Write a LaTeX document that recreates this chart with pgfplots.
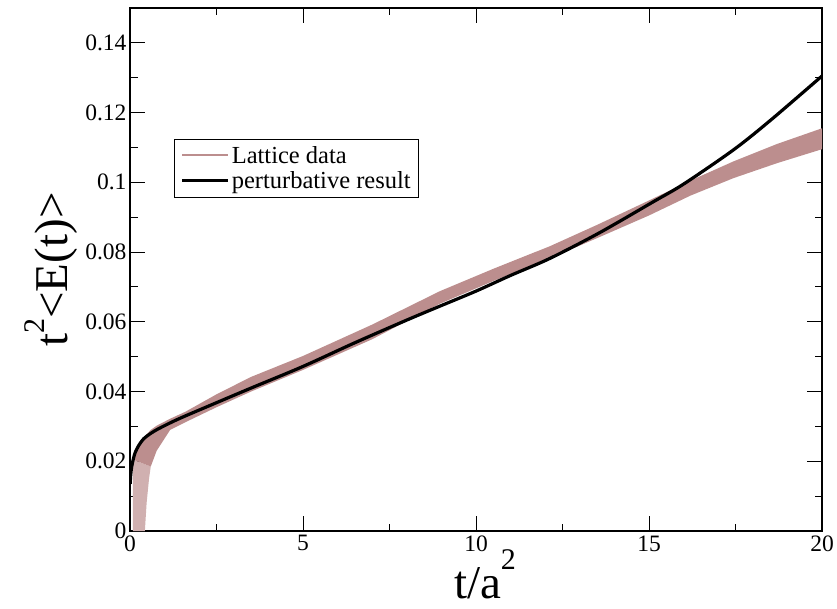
\documentclass[border=0pt]{standalone}
\usepackage{fontspec}
\setmainfont{Liberation Serif}
\usepackage{pgfplots}
\pgfplotsset{compat=1.18}
\definecolor{bandcol}{RGB}{188,142,142}

\begin{document}
\begin{tikzpicture}
\useasboundingbox (-130pt,-77pt) rectangle (707pt,531pt);
\begin{axis}[
    scale only axis, width=692pt, height=523pt,
    xmin=0, xmax=20, ymin=0, ymax=0.15,
    xtick={0,5,10,15,20}, ytick={0,0.02,0.04,0.06,0.08,0.1,0.12,0.14},
    minor x tick num=1, minor y tick num=1,
    tick align=inside, ticks=both,
    xtick pos=both, ytick pos=both,
    major tick length=15pt, minor tick length=7.5pt,
    every tick/.style={black, line width=1pt},
    axis line style={line width=2.2pt},
    scaled y ticks=false,
    yticklabel style={/pgf/number format/fixed, /pgf/number format/precision=2},
    /pgf/number format/assume math mode=true,
    ticklabel style={font=\fontsize{23.5}{25}\selectfont},
    xticklabel style={yshift=-1pt},
    xlabel={t/a\raisebox{29pt}{\fontsize{30}{30}\selectfont 2}},
    ylabel={t\raisebox{23pt}{\fontsize{30}{30}\selectfont 2}<E(t)>},
    label style={font=\fontsize{47}{47}\selectfont, inner sep=0pt},
    xlabel style={at={(axis description cs:0.513,-0.129)}, anchor=base},
    ylabel style={at={(axis description cs:-0.0896,0.5)}, anchor=base},
    legend style={at={(axis description cs:0.064,0.75)}, anchor=north west,
      draw=black, line width=0.6pt, font=\fontsize{24.5}{27}\selectfont,
      cells={anchor=west}, row sep=3pt, inner xsep=6pt, inner ysep=5pt},
    legend image code/.code={\draw[#1] (0pt,0pt) -- (34pt,0pt);
      \path (0pt,0pt) -- (46pt,0pt);},
    legend cell align=left,
  ]
  % lattice band, hatched start near t=0
  \addplot[fill=bandcol!70, draw=none, forget plot] coordinates {
    (0.08,0) (0.08,0.0205) (0.6,0.0185) (0.55,0.015) (0.48,0.008) (0.43,0)
  } -- cycle;
  % lattice band: upper edge, then lower edge back
  \addplot[fill=bandcol, draw=none, forget plot] coordinates {
    (0.08,0.0205) (0.1,0.0213) (0.2,0.0240) (0.3,0.0258) (0.43,0.0272)
    (0.6,0.0290) (0.77,0.0302) (1.16,0.0322) (1.6,0.0342) (2.5,0.0392)
    (3.5,0.0442) (5,0.0502) (7,0.0592) (8.96,0.0688) (10.5,0.0752)
    (12.14,0.0817) (13.5,0.0878) (15,0.0948) (16.2,0.1005) (17.44,0.1060)
    (18.7,0.1110) (20,0.1155)
    (20,0.1095) (18.7,0.1055) (17.44,0.1012) (16.2,0.0962) (15,0.0905)
    (13.5,0.0840) (12.14,0.0782)
    (10.5,0.0717) (8.96,0.0652) (7,0.0550) (5,0.0462) (3.5,0.0400)
    (2.5,0.0355) (1.6,0.0312) (1.16,0.0290) (0.77,0.0230) (0.6,0.0185)
  } -- cycle;
  \addlegendimage{bandcol, line width=1.8pt}
  \addlegendentry{Lattice data}
  \addplot[black, line width=3.2pt, smooth] coordinates {
    (0.005,0.0135) (0.02,0.0160) (0.05,0.0185) (0.1,0.0208) (0.15,0.0225)
    (0.25,0.0245) (0.4,0.0265) (0.6,0.0280) (0.8,0.0292) (1.2,0.0312)
    (1.6,0.0330) (2.5,0.0368) (3.5,0.0410) (5,0.0472) (6.5,0.0540)
    (8,0.0605) (8.96,0.0645) (10,0.0688) (11,0.0733) (12.14,0.0782)
    (13.58,0.0856) (15.12,0.0944) (16,0.0995) (17.44,0.1093) (18.5,0.1177)
    (20,0.1305)
  };
  \addlegendentry{perturbative result}
\end{axis}
\end{tikzpicture}
\end{document}
